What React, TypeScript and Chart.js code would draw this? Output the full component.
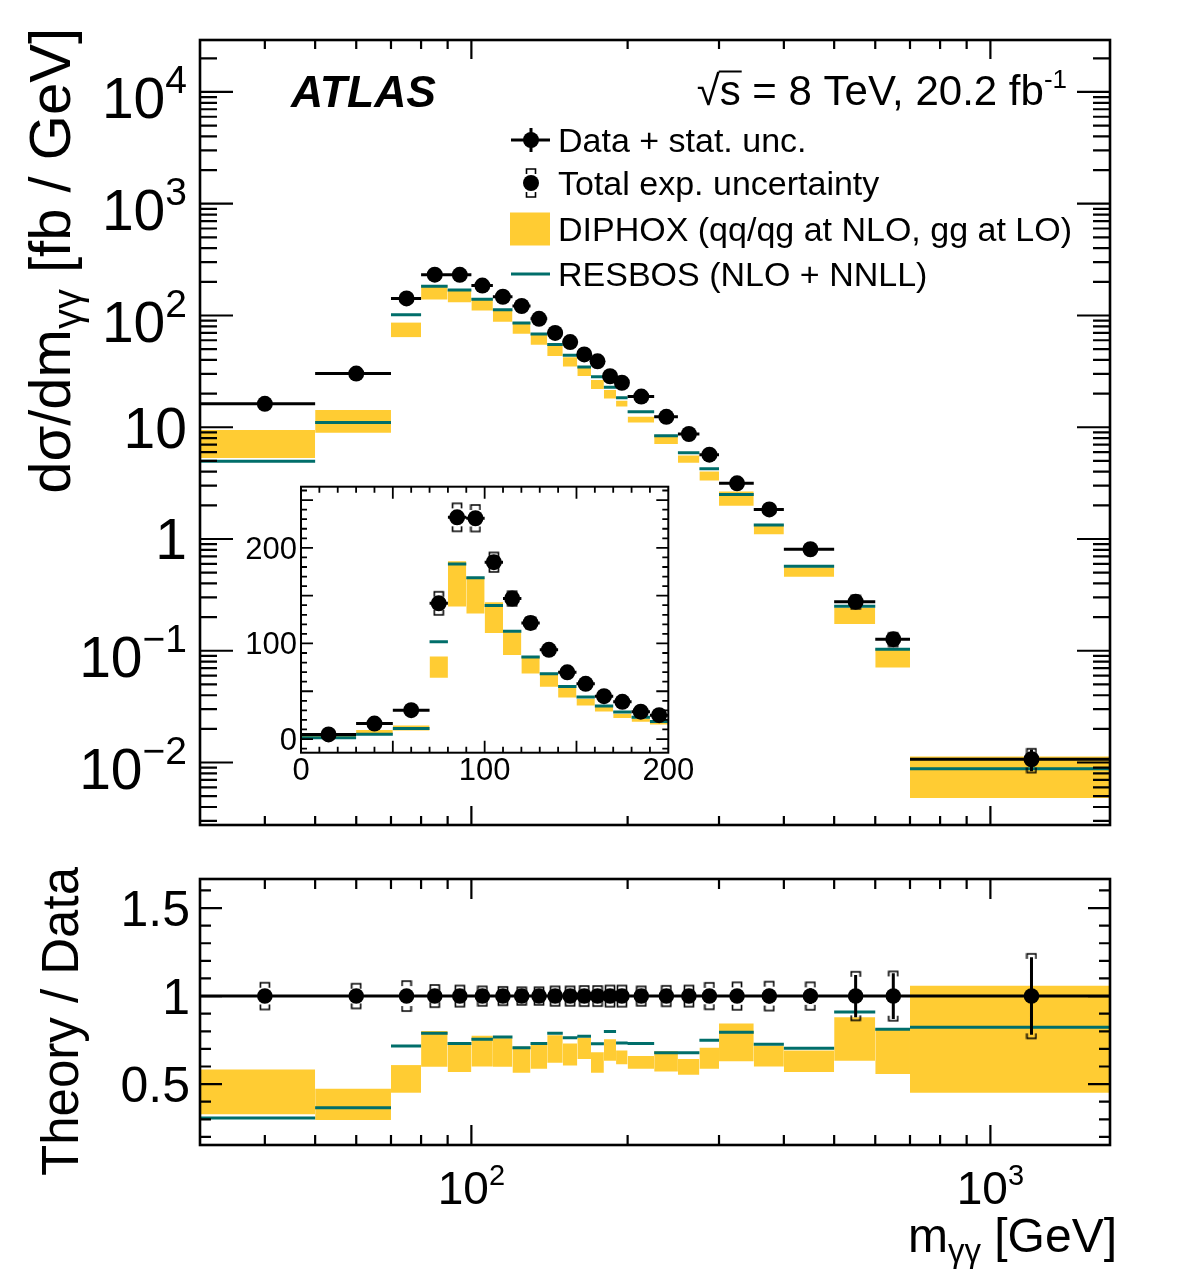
import React, { useEffect, useRef } from "react";
import { Chart, registerables } from "chart.js";

Chart.register(...registerables);

// ---------------- values ----------------
const binEdges = [0, 30, 50, 70, 80, 90, 100, 110, 120, 130, 140, 150, 160, 170, 180, 190, 200, 225, 250, 275, 300, 350, 400, 500, 600, 700, 1700];
const dataXsec = [4.8, 16.2, 30.2, 142, 232, 231, 185, 147, 121.5, 93.3, 69.8, 57.8, 44.8, 38.9, 28.6, 25.0, 18.8, 12.4, 8.7, 5.68, 3.15, 1.84, 0.81, 0.275, 0.127, 0.0107];
const statRelUnc = [0.02, 0.012, 0.01, 0.006, 0.005, 0.005, 0.006, 0.007, 0.008, 0.009, 0.01, 0.012, 0.013, 0.014, 0.016, 0.018, 0.018, 0.022, 0.026, 0.03, 0.032, 0.042, 0.045, 0.12, 0.13, 0.22];
const totalRelUnc = [0.08, 0.076, 0.07, 0.085, 0.063, 0.06, 0.055, 0.052, 0.05, 0.05, 0.055, 0.055, 0.057, 0.057, 0.06, 0.06, 0.055, 0.058, 0.06, 0.075, 0.078, 0.082, 0.078, 0.138, 0.14, 0.24];
const diphoxRatioLow = [0.30, 0.328, 0.296, 0.451, 0.598, 0.568, 0.600, 0.598, 0.564, 0.587, 0.621, 0.606, 0.642, 0.564, 0.632, 0.612, 0.587, 0.572, 0.553, 0.587, 0.630, 0.600, 0.568, 0.632, 0.558, 0.451];
const diphoxRatioHigh = [0.86, 0.583, 0.473, 0.608, 0.802, 0.731, 0.774, 0.760, 0.712, 0.731, 0.778, 0.731, 0.763, 0.681, 0.755, 0.691, 0.659, 0.687, 0.642, 0.706, 0.844, 0.718, 0.691, 0.880, 0.812, 1.058];
const resbosRatio = [0.29, 0.307, 0.366, 0.716, 0.789, 0.731, 0.755, 0.767, 0.706, 0.731, 0.789, 0.763, 0.772, 0.729, 0.799, 0.733, 0.731, 0.678, 0.678, 0.749, 0.795, 0.727, 0.704, 0.910, 0.812, 0.823];

const mainYTickDecades = [-2, -1, 0, 1, 2, 3, 4];
const xTickLabelDecades = [2, 3];
const ratioYTickLabels = [0.5, 1, 1.5];
const insetXTickLabels = [0, 100, 200];
const insetYTickLabels = [0, 100, 200];
const legendLabels = ["Data + stat. unc.", "Total exp. uncertainty", "DIPHOX (qq/qg at NLO, gg at LO)", "RESBOS (NLO + NNLL)"];

const X_RANGE = [30, 1700];
const MAIN_Y_RANGE = [0.00276, 29170];
const RATIO_Y_RANGE = [0.154, 1.665];
const INSET_X_RANGE = [0, 200];
const INSET_Y_RANGE = [-14.3, 264];

// ---------------- styling ----------------
const YELLOW = "#ffcc33";
const TEAL = "#006e6a";
const FONT_FAMILY = '"Liberation Sans", Arial, Helvetica, sans-serif';

const nBins = dataXsec.length;
const binCenter = (i: number) => (binEdges[i] + binEdges[i + 1]) / 2;
const rangeIdx = (a: number, b: number) => Array.from({ length: b - a + 1 }, (_, k) => a + k);
const MAIN_BINS = rangeIdx(1, nBins - 1);
const INSET_BINS = rangeIdx(0, 15);

type Pt = { x: number; y: number | null };

function stepSegments(bins: number[], val: (i: number) => number): Pt[] {
  const pts: Pt[] = [];
  bins.forEach((i) => {
    pts.push({ x: binEdges[i], y: val(i) }, { x: binEdges[i + 1], y: val(i) }, { x: binEdges[i + 1], y: null });
  });
  return pts;
}
function vertSegments(bins: number[], lo: (i: number) => number, hi: (i: number) => number): Pt[] {
  const pts: Pt[] = [];
  bins.forEach((i) => {
    const c = binCenter(i);
    pts.push({ x: c, y: lo(i) }, { x: c, y: hi(i) }, { x: c, y: null });
  });
  return pts;
}
function centers(bins: number[], val: (i: number) => number): Pt[] {
  return bins.map((i) => ({ x: binCenter(i), y: val(i) }));
}

function makeBracket(up: boolean): HTMLCanvasElement {
  const c = document.createElement("canvas");
  c.width = 12;
  c.height = 14;
  const g = c.getContext("2d")!;
  g.strokeStyle = "#000";
  g.lineWidth = 1.6;
  g.beginPath();
  const mid = 7;
  const leg = up ? 5 : -5;
  g.moveTo(1.5, mid + leg);
  g.lineTo(1.5, mid);
  g.lineTo(10.5, mid);
  g.lineTo(10.5, mid + leg);
  g.stroke();
  return c;
}

function panelDatasets(bins: number[], base: (i: number) => number, r: number, br: { up: HTMLCanvasElement; dn: HTMLCanvasElement }, ratio: boolean) {
  const ds: any[] = [
    { label: "Data", data: centers(bins, base), showLine: false, pointRadius: r, pointBackgroundColor: "#000", pointBorderWidth: 0, order: 0 },
    { label: "TotUp", data: centers(bins, (i) => base(i) * (1 + totalRelUnc[i])), showLine: false, pointStyle: br.up, pointRadius: 5, order: 1 },
    { label: "TotDn", data: centers(bins, (i) => base(i) * (1 - totalRelUnc[i])), showLine: false, pointStyle: br.dn, pointRadius: 5, order: 1 },
    { label: "Stat", data: vertSegments(bins, (i) => base(i) * (1 - statRelUnc[i]), (i) => base(i) * (1 + statRelUnc[i])), borderColor: "#000", borderWidth: 3, pointRadius: 0, spanGaps: false, order: 2 },
    ratio
      ? { label: "Unity", data: [{ x: X_RANGE[0], y: 1 }, { x: X_RANGE[1], y: 1 }], borderColor: "#000", borderWidth: 3, pointRadius: 0, order: 3 }
      : { label: "XBar", data: stepSegments(bins, base), borderColor: "#000", borderWidth: 3, pointRadius: 0, spanGaps: false, order: 3 },
    { label: "RESBOS", data: stepSegments(bins, (i) => base(i) * resbosRatio[i]), borderColor: TEAL, borderWidth: 3, pointRadius: 0, spanGaps: false, order: 4 },
    { label: "DIPHOX", data: stepSegments(bins, (i) => base(i) * diphoxRatioHigh[i]), borderColor: "rgba(0,0,0,0)", borderWidth: 0, backgroundColor: YELLOW, fill: "+1", pointRadius: 0, spanGaps: false, order: 5 },
    { label: "DIPHOXlow", data: stepSegments(bins, (i) => base(i) * diphoxRatioLow[i]), borderColor: "rgba(0,0,0,0)", borderWidth: 0, fill: false, pointRadius: 0, spanGaps: false, order: 6 },
  ];
  return ds;
}

// ---------------- drawing helpers ----------------
type Tick = { v: number; major: boolean };
function logTicks(min: number, max: number): Tick[] {
  const out: Tick[] = [];
  for (let e = Math.floor(Math.log10(min)); e <= Math.ceil(Math.log10(max)); e++) {
    for (let m = 1; m <= 9; m++) {
      const v = m * Math.pow(10, e);
      if (v > min * 1.001 && v < max * 0.999) out.push({ v, major: m === 1 });
    }
  }
  return out;
}
function linTicks(min: number, max: number, step: number, majorEvery: number): Tick[] {
  const out: Tick[] = [];
  const k0 = Math.ceil(min / step - 1e-9);
  const k1 = Math.floor(max / step + 1e-9);
  for (let k = k0; k <= k1; k++) {
    const v = k * step;
    if (v > min + 1e-9 && v < max - 1e-9) out.push({ v, major: k % majorEvery === 0 });
  }
  return out;
}
function drawFrameAndTicks(ctx: CanvasRenderingContext2D, area: any, xs: any, ys: any, xt: Tick[], yt: Tick[], L: { xMaj: number; xMin: number; yMaj: number; yMin: number }, tickLW: number, frameLW: number) {
  ctx.save();
  ctx.strokeStyle = "#000";
  ctx.lineWidth = tickLW;
  ctx.beginPath();
  for (const t of xt) {
    const px = xs.getPixelForValue(t.v);
    const len = t.major ? L.xMaj : L.xMin;
    ctx.moveTo(px, area.bottom);
    ctx.lineTo(px, area.bottom - len);
    ctx.moveTo(px, area.top);
    ctx.lineTo(px, area.top + len);
  }
  for (const t of yt) {
    const py = ys.getPixelForValue(t.v);
    const len = t.major ? L.yMaj : L.yMin;
    ctx.moveTo(area.left, py);
    ctx.lineTo(area.left + len, py);
    ctx.moveTo(area.right, py);
    ctx.lineTo(area.right - len, py);
  }
  ctx.stroke();
  ctx.lineWidth = frameLW;
  ctx.strokeRect(area.left, area.top, area.right - area.left, area.bottom - area.top);
  ctx.restore();
}

type Run = { t: string; size: number; dy?: number; style?: string };
function setFont(ctx: CanvasRenderingContext2D, size: number, style = "") {
  ctx.font = `${style ? style + " " : ""}${size}px ${FONT_FAMILY}`;
}
function runsWidth(ctx: CanvasRenderingContext2D, runs: Run[]) {
  let w = 0;
  for (const r of runs) {
    setFont(ctx, r.size, r.style);
    w += ctx.measureText(r.t).width;
  }
  return w;
}
function drawRuns(ctx: CanvasRenderingContext2D, runs: Run[], x: number, y: number, align: "left" | "right" | "center") {
  const w = runsWidth(ctx, runs);
  let cx = align === "left" ? x : align === "right" ? x - w : x - w / 2;
  ctx.textAlign = "left";
  ctx.textBaseline = "alphabetic";
  ctx.fillStyle = "#000";
  const starts: number[] = [];
  for (const r of runs) {
    setFont(ctx, r.size, r.style);
    starts.push(cx);
    ctx.fillText(r.t, cx, y + (r.dy || 0));
    cx += ctx.measureText(r.t).width;
  }
  return starts;
}
function drawRotatedRuns(ctx: CanvasRenderingContext2D, runs: Run[], baseX: number, endY: number) {
  ctx.save();
  ctx.translate(baseX, endY);
  ctx.rotate(-Math.PI / 2);
  drawRuns(ctx, runs, 0, 0, "right");
  ctx.restore();
}
const expText = (e: number) => (e < 0 ? "\u2212" + String(-e) : String(e));

// ---------------- plugins ----------------
function mainDecor(br: { up: HTMLCanvasElement; dn: HTMLCanvasElement }) {
  return {
    id: "mainDecor",
    afterDraw(chart: any) {
      const ctx: CanvasRenderingContext2D = chart.ctx;
      const a = chart.chartArea;
      const xs = chart.scales.x;
      const ys = chart.scales.y;
      drawFrameAndTicks(ctx, a, xs, ys, logTicks(X_RANGE[0], X_RANGE[1]), logTicks(MAIN_Y_RANGE[0], MAIN_Y_RANGE[1]), { xMaj: 19, xMin: 9, yMaj: 33, yMin: 17 }, 2.2, 2.6);
      ctx.save();
      // y tick labels
      for (const e of mainYTickDecades) {
        const py = ys.getPixelForValue(Math.pow(10, e));
        if (e === 0) drawRuns(ctx, [{ t: "1", size: 57 }], 187, py + 20.4, "right");
        else if (e === 1) drawRuns(ctx, [{ t: "10", size: 57 }], 187, py + 20.4, "right");
        else drawRuns(ctx, [{ t: "10", size: 57 }, { t: expText(e), size: 39, dy: -25 }], 187, py + 26.5, "right");
      }
      // y title
      drawRotatedRuns(ctx, [{ t: "d\u03c3/dm", size: 58 }, { t: "\u03b3\u03b3", size: 40, dy: 11 }, { t: " [fb / GeV]", size: 58 }], 70, 28);
      // ATLAS
      setFont(ctx, 44.5, "italic bold");
      ctx.textAlign = "left";
      ctx.fillStyle = "#000";
      ctx.fillText("ATLAS", 291, 106.5);
      // sqrt(s) label
      const runs: Run[] = [{ t: "\u221a", size: 42 }, { t: "s", size: 42 }, { t: " = 8 TeV, 20.2 fb", size: 42 }, { t: "-1", size: 26, dy: -17 }];
      const st = drawRuns(ctx, runs, 1067, 104.5, "right");
      setFont(ctx, 42);
      const wS = ctx.measureText("s").width;
      const m = ctx.measureText("\u221a");
      const topY = 104.5 - (m.actualBoundingBoxAscent || 36) + 1;
      ctx.strokeStyle = "#000";
      ctx.lineWidth = 2;
      ctx.beginPath();
      ctx.moveTo(st[1] - 1, topY);
      ctx.lineTo(st[1] + wS + 1, topY);
      ctx.stroke();
      // legend
      const rows = [140, 183, 228.5, 274];
      ctx.lineWidth = 3;
      ctx.strokeStyle = "#000";
      ctx.beginPath();
      ctx.moveTo(511, rows[0]);
      ctx.lineTo(550, rows[0]);
      ctx.moveTo(531, rows[0] - 12);
      ctx.lineTo(531, rows[0] + 12);
      ctx.stroke();
      ctx.fillStyle = "#000";
      ctx.beginPath();
      ctx.arc(531, rows[0], 8, 0, Math.PI * 2);
      ctx.fill();
      ctx.beginPath();
      ctx.arc(531, rows[1], 8, 0, Math.PI * 2);
      ctx.fill();
      ctx.drawImage(br.up, 531 - br.up.width / 2, rows[1] - 14 - br.up.height / 2);
      ctx.drawImage(br.dn, 531 - br.dn.width / 2, rows[1] + 14 - br.dn.height / 2);
      ctx.fillStyle = YELLOW;
      ctx.fillRect(510, rows[2] - 16, 40, 33);
      ctx.strokeStyle = TEAL;
      ctx.beginPath();
      ctx.moveTo(511, rows[3]);
      ctx.lineTo(550, rows[3]);
      ctx.stroke();
      legendLabels.forEach((lab, k) => drawRuns(ctx, [{ t: lab, size: 34 }], 558, rows[k] + 12, "left"));
      ctx.restore();
    },
  };
}

const ratioDecor = {
  id: "ratioDecor",
  afterDraw(chart: any) {
    const ctx: CanvasRenderingContext2D = chart.ctx;
    const a = chart.chartArea;
    const xs = chart.scales.x;
    const ys = chart.scales.y;
    drawFrameAndTicks(ctx, a, xs, ys, logTicks(X_RANGE[0], X_RANGE[1]), linTicks(RATIO_Y_RANGE[0], RATIO_Y_RANGE[1], 0.1, 5), { xMaj: 20, xMin: 10, yMaj: 22, yMin: 11 }, 2.2, 2.6);
    ctx.save();
    for (const v of ratioYTickLabels) {
      const py = ys.getPixelForValue(v);
      drawRuns(ctx, [{ t: String(v), size: 50 }], 190, py + 18, "right");
    }
    for (const e of xTickLabelDecades) {
      const px = xs.getPixelForValue(Math.pow(10, e));
      drawRuns(ctx, [{ t: "10", size: 46 }, { t: String(e), size: 29, dy: -19 }], px, a.bottom + 59, "center");
    }
    drawRotatedRuns(ctx, [{ t: "Theory / Data", size: 51 }], 78, 7);
    drawRuns(ctx, [{ t: "m", size: 48 }, { t: "\u03b3\u03b3", size: 33, dy: 10 }, { t: " [GeV]", size: 48 }], 1117, 392, "right");
    ctx.restore();
  },
};

const insetDecor = {
  id: "insetDecor",
  beforeDraw(chart: any) {
    const ctx: CanvasRenderingContext2D = chart.ctx;
    const a = chart.chartArea;
    ctx.save();
    ctx.fillStyle = "#fff";
    ctx.fillRect(a.left, a.top, a.right - a.left, a.bottom - a.top);
    ctx.restore();
  },
  afterDraw(chart: any) {
    const ctx: CanvasRenderingContext2D = chart.ctx;
    const a = chart.chartArea;
    const xs = chart.scales.x;
    const ys = chart.scales.y;
    drawFrameAndTicks(ctx, a, xs, ys, linTicks(INSET_X_RANGE[0], INSET_X_RANGE[1], 10, 5), linTicks(INSET_Y_RANGE[0], INSET_Y_RANGE[1], 10, 5), { xMaj: 12, xMin: 6, yMaj: 12, yMin: 6 }, 1.8, 2);
    ctx.save();
    for (const v of insetYTickLabels) {
      const py = ys.getPixelForValue(v);
      drawRuns(ctx, [{ t: String(v), size: 31 }], a.left - 4, py + 11, "right");
    }
    for (const v of insetXTickLabels) {
      const px = xs.getPixelForValue(v);
      drawRuns(ctx, [{ t: String(v), size: 31 }], px, a.bottom + 27.5, "center");
    }
    ctx.restore();
  },
};

function commonOptions(padding: any, xType: string, xr: number[], yType: string, yr: number[]) {
  return {
    responsive: false,
    animation: false,
    devicePixelRatio: 1,
    events: [],
    layout: { padding },
    plugins: { legend: { display: false }, tooltip: { enabled: false } },
    scales: {
      x: { type: xType, min: xr[0], max: xr[1], display: false, bounds: "data" },
      y: { type: yType, min: yr[0], max: yr[1], display: false, bounds: "data" },
    },
  };
}

export default function App() {
  const mainRef = useRef<HTMLCanvasElement>(null);
  const ratioRef = useRef<HTMLCanvasElement>(null);
  const insetRef = useRef<HTMLCanvasElement>(null);

  useEffect(() => {
    const br = { up: makeBracket(true), dn: makeBracket(false) };
    const charts: Chart[] = [];
    charts.push(
      new Chart(mainRef.current!, {
        type: "line",
        data: { datasets: panelDatasets(MAIN_BINS, (i) => dataXsec[i], 8, br, false) },
        options: commonOptions({ left: 200, top: 40, right: 72, bottom: 35 }, "logarithmic", X_RANGE, "logarithmic", MAIN_Y_RANGE) as any,
        plugins: [mainDecor(br)],
      } as any)
    );
    charts.push(
      new Chart(insetRef.current!, {
        type: "line",
        data: { datasets: panelDatasets(INSET_BINS, (i) => dataXsec[i], 8, br, false) },
        options: commonOptions({ left: 61, top: 16.7, right: 41.7, bottom: 47.3 }, "linear", INSET_X_RANGE, "linear", INSET_Y_RANGE) as any,
        plugins: [insetDecor],
      } as any)
    );
    charts.push(
      new Chart(ratioRef.current!, {
        type: "line",
        data: { datasets: panelDatasets(MAIN_BINS, () => 1, 7.8, br, true) },
        options: commonOptions({ left: 200, top: 19, right: 72, bottom: 135 }, "logarithmic", X_RANGE, "linear", RATIO_Y_RANGE) as any,
        plugins: [ratioDecor],
      } as any)
    );
    return () => charts.forEach((c) => c.destroy());
  }, []);

  return (
    <div style={{ position: "absolute", left: 0, top: 0, width: 1182, height: 1280, background: "#fff", overflow: "hidden" }}>
      <canvas ref={mainRef} width={1182} height={860} style={{ position: "absolute", left: 0, top: 0, width: 1182, height: 860 }} />
      <canvas ref={ratioRef} width={1182} height={420} style={{ position: "absolute", left: 0, top: 860, width: 1182, height: 420 }} />
      <canvas ref={insetRef} width={470} height={330} style={{ position: "absolute", left: 240, top: 470, width: 470, height: 330 }} />
    </div>
  );
}
